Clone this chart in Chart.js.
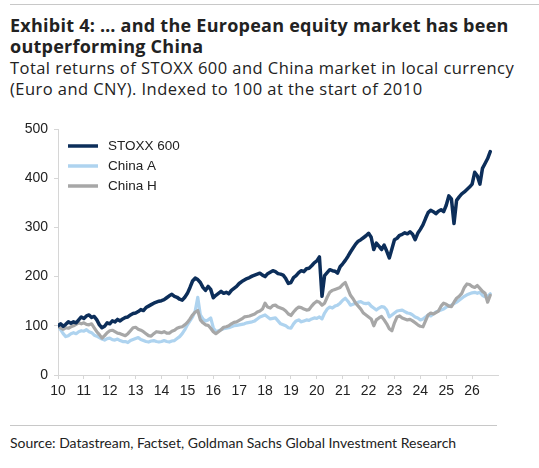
<!DOCTYPE html>
<html>
<head>
<meta charset="utf-8">
<script src="https://cdn.jsdelivr.net/npm/chart.js@4.4.1/dist/chart.umd.min.js"></script>
<style>
  body { margin: 0; background: #fff; }
  #wrap { position: relative; width: 539px; height: 468px; overflow: hidden; font-family: Lato, "Open Sans", sans-serif; color: #222; }
  .rule { position: absolute; height: 1px; background: #c8c8c8; }
  #head { position: absolute; left: 10px; top: 15px; width: 529px; line-height: 21px; white-space: nowrap; font-family: "Open Sans", sans-serif; }
  #head .t { font-size: 18px; font-weight: bold; letter-spacing: 0.25px; }
  #head .s { font-size: 16.5px; letter-spacing: 0.45px; }
  #chart-box { position: absolute; left: 0; top: 110px; width: 520px; height: 300px; }
  #source { position: absolute; left: 10px; top: 434px; font-size: 14px; white-space: nowrap; }
</style>
</head>
<body>
<div id="wrap">
  <div class="rule" style="left:10px;right:0;top:4px"></div>
  <div id="head">
    <div class="t">Exhibit 4: … and the European equity market has been<br>outperforming China</div>
    <div class="s">Total returns of STOXX 600 and China market in local currency<br>(Euro and CNY). Indexed to 100 at the start of 2010</div>
  </div>
  <div id="chart-box"><canvas id="chart" width="520" height="300"></canvas></div>
  <div class="rule" style="left:10px;width:487px;top:425px"></div>
  <div id="source">Source: Datastream, Factset, Goldman Sachs Global Investment Research</div>
</div>
<script>
// Year positions (10 = start of 2010), one every 0.1 year.
const years = [];
for (let i = 0; i <= 167; i++) years.push(+(10 + i / 10).toFixed(1));

const xTicks = [10, 11, 12, 13, 14, 15, 16, 17, 18, 19, 20, 21, 22, 23, 24, 25, 26];
const yTicks = [0, 100, 200, 300, 400, 500];

// Values, per 0.1 year.
const stoxx600 = [
  100, 104, 99, 103, 108, 105, 108, 106, 112, 118,
  115, 120, 122, 117, 119, 112, 102, 96, 99, 106,
  104, 110, 108, 113, 110, 114, 117, 118, 122, 125,
  126, 129, 133, 131, 137, 140, 143, 146, 148, 150,
  151, 153, 157, 161, 164, 160, 158, 154, 152, 158,
  166, 178, 191, 197, 194, 188, 178, 172, 180, 174,
  157, 162, 166, 170, 166, 168, 165, 172, 176, 180,
  186, 190, 193, 196, 198, 201, 203, 205, 207, 203,
  200, 206, 209, 212, 210, 206, 205, 203, 196, 186,
  188, 198, 202, 208, 212, 210, 216, 217, 222, 228,
  232, 240, 160, 202, 208, 214, 212, 211, 207, 220,
  226, 233, 241, 250, 258, 266, 272, 275, 279, 283,
  288, 280, 255, 268, 262, 255, 264, 252, 238, 256,
  275, 278, 284, 286, 289, 287, 291, 286, 275, 288,
  296, 305, 318, 330, 335, 332, 328, 333, 336, 332,
  345, 364, 358, 308, 355, 362, 368, 372, 377, 382,
  388, 412, 405, 388, 420, 430, 440, 454
];
const chinaA = [
  98, 92, 84, 78, 80, 84, 86, 84, 88, 90,
  89, 92, 88, 86, 81, 79, 76, 73, 71, 74,
  75, 72, 71, 73, 70, 68, 68, 66, 70, 72,
  74, 76, 72, 70, 68, 67, 69, 70, 68, 67,
  68, 70, 68, 67, 69, 70, 74, 78, 84, 92,
  102, 110, 118, 130, 158, 122, 114, 110, 112, 116,
  96, 88, 90, 92, 94, 95, 96, 98, 100, 101,
  102, 103, 104, 106, 107, 108, 110, 114, 118, 120,
  122, 118, 114, 115, 116, 110, 104, 102, 100, 96,
  95, 104, 110, 112, 108, 110, 112, 111, 114, 116,
  115, 118, 114, 126, 134, 138, 136, 140, 142, 146,
  152, 156, 150, 142, 144, 146, 148, 149, 146, 145,
  146, 140, 136, 132, 136, 139, 138, 132, 118, 122,
  126, 130, 131, 132, 129, 126, 125, 122, 118, 116,
  112, 114, 118, 122, 120, 124, 128, 130, 132, 134,
  138, 140, 142, 145, 148, 152, 156, 160, 163, 165,
  167, 168, 166, 168, 162, 159, 160, 165
];
const chinaH = [
  98, 96, 93, 96, 95, 98, 100, 103, 106, 104,
  106, 103, 102, 104, 96, 88, 82, 75, 80, 86,
  90, 91, 88, 85, 84, 82, 80, 84, 90, 96,
  97, 93, 91, 88, 84, 80, 79, 84, 88, 87,
  86, 88, 85, 85, 89, 91, 95, 97, 98, 102,
  107, 114, 122, 128, 131, 112, 106, 102, 101, 95,
  88, 84, 88, 92, 97, 98, 100, 104, 107, 108,
  111, 114, 118, 119, 120, 122, 124, 128, 130, 134,
  146, 138, 136, 141, 142, 138, 136, 134, 130, 124,
  121, 128, 134, 138, 137, 134, 132, 133, 140, 146,
  150, 148, 142, 146, 158, 168, 172, 174, 176, 178,
  184, 188, 175, 162, 155, 146, 140, 134, 126, 122,
  118, 114, 100, 112, 116, 119, 112, 104, 94, 90,
  106, 118, 120, 116, 114, 112, 113, 110, 106, 102,
  99, 98, 110, 122, 126, 124, 127, 130, 140, 146,
  144, 140, 139, 148, 156, 160, 166, 178, 185, 184,
  180, 178, 182, 176, 170, 166, 148, 162
];

const seriesNames = ['STOXX 600', 'China A', 'China H'];
const seriesColors = ['#0c2e5a', '#aed3ef', '#a7a7a7'];

const axisFont = { family: '"Liberation Sans", Arial, sans-serif', size: 14 };
const axisGrey = '#d6d6d6';

function points(values) {
  return years.map((x, i) => ({ x, y: values[i] }));
}

// Legend drawn inside the plot, top-left, in the reference order.
const insideLegend = {
  id: 'insideLegend',
  afterDraw(chart) {
    const { ctx, chartArea } = chart;
    ctx.save();
    ctx.font = '13.5px "Liberation Sans", Arial, sans-serif';
    ctx.textBaseline = 'middle';
    seriesNames.forEach((name, i) => {
      const y = chartArea.top + 17 + i * 20;
      ctx.strokeStyle = seriesColors[i];
      ctx.lineWidth = 3.5;
      ctx.beginPath();
      ctx.moveTo(chartArea.left + 10, y);
      ctx.lineTo(chartArea.left + 40, y);
      ctx.stroke();
      ctx.fillStyle = '#222';
      ctx.fillText(name, chartArea.left + 50, y + 0.5);
    });
    ctx.restore();
  },
};

const line = (label, values, color, width) => ({
  label, data: points(values),
  borderColor: color, backgroundColor: color,
  borderWidth: width, pointRadius: 0, tension: 0,
  borderJoinStyle: 'round', borderCapStyle: 'round',
});

new Chart(document.getElementById('chart'), {
  type: 'line',
  data: {
    datasets: [
      line(seriesNames[0], stoxx600, seriesColors[0], 3.5),
      line(seriesNames[2], chinaH, seriesColors[2], 3.2),
      line(seriesNames[1], chinaA, seriesColors[1], 3.2),
    ],
  },
  options: {
    responsive: false,
    animation: false,
    layout: { padding: { top: 19, right: 22, left: 0, bottom: 0 } },
    plugins: { legend: { display: false }, tooltip: { enabled: false } },
    scales: {
      x: {
        type: 'linear', min: 10, max: 27,
        afterBuildTicks: (s) => { s.ticks = xTicks.map((v) => ({ value: v })); },
        afterFit: (s) => { s.height = 35; },
        ticks: { color: '#222', font: axisFont, padding: 4, maxRotation: 0, autoSkip: false },
        grid: { drawOnChartArea: false, tickLength: 4, color: axisGrey },
        border: { color: axisGrey },
      },
      y: {
        min: 0, max: 500,
        afterBuildTicks: (s) => { s.ticks = yTicks.map((v) => ({ value: v })); },
        afterFit: (s) => { s.width = 58; },
        ticks: { color: '#222', font: axisFont, padding: 6 },
        grid: { drawOnChartArea: false, tickLength: 4, color: axisGrey },
        border: { color: axisGrey },
      },
    },
  },
  plugins: [insideLegend],
});
</script>
</body>
</html>
